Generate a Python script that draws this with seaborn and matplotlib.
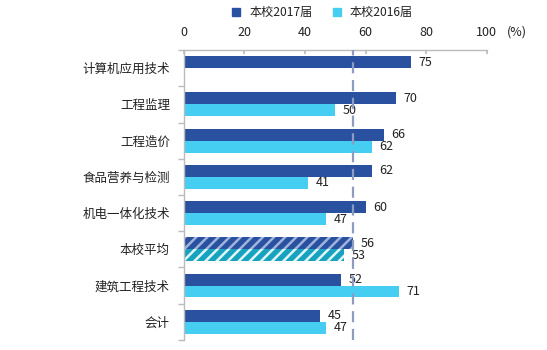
import matplotlib
matplotlib.use("Agg")
import matplotlib.pyplot as plt
import seaborn as sns
import pandas as pd
import numpy as np
from matplotlib.lines import Line2D
from matplotlib.transforms import offset_copy

sns.set_theme(style="white")
plt.rcParams['font.family'] = ['Noto Sans CJK SC', 'DejaVu Sans']
plt.rcParams['hatch.linewidth'] = 1.8

categories = ["计算机应用技术", "工程监理", "工程造价", "食品营养与检测",
              "机电一体化技术", "本校平均", "建筑工程技术", "会计"]
values_2017 = [75, 70, 66, 62, 60, 56, 52, 45]
values_2016 = [np.nan, 50, 62, 41, 47, 53, 71, 47]
series = ["本校2017届", "本校2016届"]
avg_line = 56
xticks = [0, 20, 40, 60, 80, 100]

c17 = "#2a51a0"
c16 = "#45cdf2"

rows = []
for c, a, b in zip(categories, values_2017, values_2016):
    rows.append({"cat": c, "series": series[0], "val": a})
    rows.append({"cat": c, "series": series[1], "val": b})
df = pd.DataFrame(rows).dropna()

fig = plt.figure(figsize=(5.47, 3.5), dpi=100)
ax = fig.add_axes([0.336, 0.029, 0.554, 0.828])

sns.barplot(data=df, y="cat", x="val", hue="series", order=categories,
            hue_order=series, palette=[c17, c16], orient="h", width=0.66,
            errorbar=None, ax=ax, legend=False, linewidth=0, saturation=1)

avg_idx = categories.index("本校平均")
for p in ax.patches:
    w = p.get_width()
    if not np.isfinite(w) or w <= 0:
        continue
    yc = p.get_y() + p.get_height() / 2
    fc = matplotlib.colors.to_hex(p.get_facecolor())
    if abs(yc - avg_idx) < 0.5:
        if fc == c17:
            p.set_facecolor(c17)
            p.set_edgecolor("#9fb3dd")
        else:
            p.set_facecolor("#17a3bf")
            p.set_edgecolor("#e0f6fb")
        p.set_hatch("///")
        p.set_linewidth(0)
    ax.text(w + 2.5, yc, f"{w:.0f}", va="center", ha="left", fontsize=9, color="#222222")

ax.axvline(avg_line, color="#8d9cc0", ls=(0, (5, 3)), lw=1.6, zorder=5)

ax.set_xlim(0, 100)
ax.set_ylim(len(categories) - 0.5, -0.5)
ax.set_xticks(xticks)
ax.xaxis.tick_top()
ax.tick_params(axis="x", top=True, bottom=False, direction="in", length=3, color="#bbbbbb",
               labelsize=9, labelcolor="#222222", pad=8)
ax.set_yticks(range(len(categories)))
ax.set_yticklabels(categories)
ax.set_yticks(np.arange(-0.5, len(categories), 1), minor=True)
ax.tick_params(axis="y", which="major", left=False, labelsize=9, labelcolor="#222222", pad=4)
ax.tick_params(axis="y", which="minor", left=True, direction="out", length=4, color="#bbbbbb")
ax.set_xlabel("")
ax.set_ylabel("")
for s in ["right", "bottom"]:
    ax.spines[s].set_visible(False)
for s in ["top", "left"]:
    ax.spines[s].set_color("#bbbbbb")
    ax.spines[s].set_linewidth(1)

tr = offset_copy(ax.get_xaxis_transform(), fig=fig, y=13, units="points")
ax.text(110, 1.0, "(%)", transform=tr, ha="center", va="center",
        fontsize=9, color="#222222")

handles = [Line2D([], [], marker="s", ls="", color=c17, markersize=6),
           Line2D([], [], marker="s", ls="", color=c16, markersize=6)]
fig.legend(handles, series, loc="center", bbox_to_anchor=(0.582, 0.965), ncol=2,
           frameon=False, fontsize=8.7, handletextpad=0.05, columnspacing=1.0,
           labelcolor="#222222")

fig.savefig("out.png", dpi=100)
